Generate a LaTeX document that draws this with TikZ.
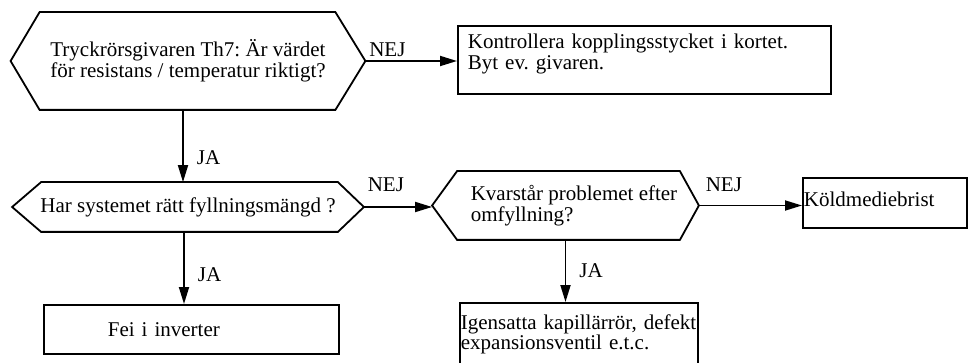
\documentclass[tikz,border=0pt]{standalone}
\usepackage{fontspec}
\setmainfont{Liberation Serif}
\usetikzlibrary{arrows.meta}
\frenchspacing
\tikzset{
  fraga/.style={rectangle, inner sep=0pt, align=left},
  ruta/.style={draw, rectangle, anchor=north west, align=left, inner ysep=0pt},
  nej/.style={pos=0, anchor=south west, inner sep=3pt},
  ja/.style={right=10pt, inner sep=3pt}
}

\begin{document}
\begin{tikzpicture}[x=1pt, y=-1pt, >={Triangle[length=17pt,width=10pt]}, line width=1.8pt,
    font=\fontsize{21}{20.5}\selectfont]
    \clip (0,0) rectangle (968,363);
    % fraga 1 (Th7)
    \node[fraga, minimum width=353pt, minimum height=96pt] (q1) at (188,61)
        {Tryckrörsgivaren Th7: Är värdet\\för resistans / temperatur riktigt?};
    \draw (q1.west) -- ([xshift=29pt]q1.north west) -- ([xshift=-30pt]q1.north east) -- (q1.east)
        -- ([xshift=-30pt]q1.south east) -- ([xshift=29pt]q1.south west) -- cycle;
    % fraga 2 (fyllningsmangd)
    \node[fraga, minimum width=350pt, minimum height=48pt] (q2) at (188,207)
        {Har systemet rätt fyllningsmängd ?};
    \draw (q2.west) -- ([xshift=29pt]q2.north west) -- ([xshift=-26pt]q2.north east) -- (q2.east)
        -- ([xshift=-26pt]q2.south east) -- ([xshift=29pt]q2.south west) -- cycle;
    % fraga 3 (omfyllning)
    \node[fraga, minimum width=265pt, minimum height=67pt] (q3) at (565.5,205.5)
        {\hspace*{17pt}Kvarstår problemet efter\\\hspace*{17pt}omfyllning?};
    \draw (q3.west) -- ([xshift=25pt]q3.north west) -- ([xshift=-19pt]q3.north east) -- (q3.east)
        -- ([xshift=-19pt]q3.south east) -- ([xshift=25pt]q3.south west) -- cycle;
    % rutor
    \node[ruta, text width=353pt, inner xsep=10pt, minimum height=68pt] (b1) at (457,25)
        {Kontrollera kopplingsstycket i kortet.\\Byt ev. givaren.\rule[-16pt]{0pt}{16pt}};
    \node[ruta, text width=295pt, inner xsep=0pt, minimum height=49pt] (b2) at (43,304)
        {\hspace*{64pt}Fei i inverter};
    \node[ruta, text width=162pt, inner xsep=1pt, minimum height=50pt] (b3) at (802,177)
        {Köldmediebrist\rule[-8pt]{0pt}{8pt}};
    \node[ruta, text width=236pt, inner xsep=1pt, minimum height=63pt] (b4) at (459,302)
        {Igensatta kapillärrör, defekt\\expansionsventil e.t.c.};
    % pilar
    \draw[->] (q1.east) -- node[nej] {NEJ} (q1.east -| b1.west);
    \draw[->] ([xshift=-5pt]q1.south) -- node[ja, pos=0.66] {JA} ([xshift=-5pt]q2.north);
    \draw[->] (q2.east) -- node[nej, yshift=11pt] {NEJ} (q2.east -| q3.west);
    \draw[->] ([xshift=-4pt]q2.south) -- node[ja, pos=0.6] {JA} ([xshift=-4pt]q2.south |- b2.north);
    \draw[->] (q3.east) -- node[nej, yshift=10pt, xshift=3pt] {NEJ} (q3.east -| b3.west);
    \draw[->] (q3.south) -- node[ja, pos=0.5] {JA} (q3.south |- b4.north);
\end{tikzpicture}
\end{document}
